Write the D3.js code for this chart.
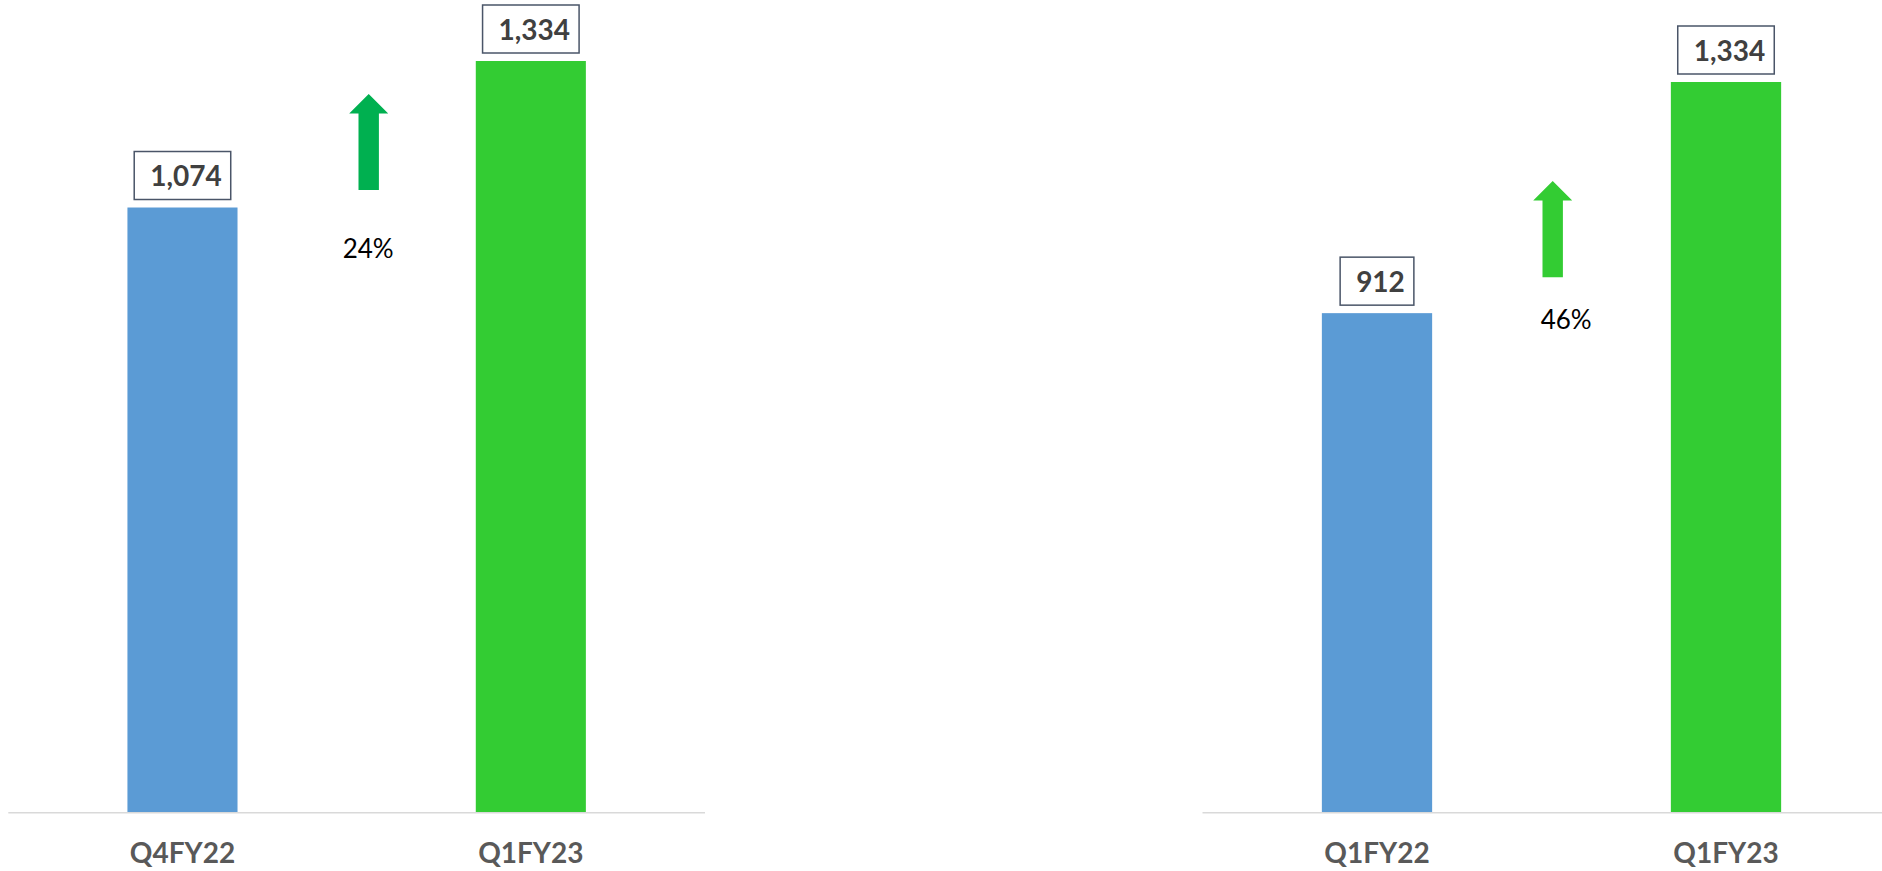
<!DOCTYPE html>
<html>
<head>
<meta charset="utf-8">
<script src="https://cdn.jsdelivr.net/npm/d3@7/dist/d3.min.js"></script>
<style>
  html, body { margin: 0; padding: 0; background: #ffffff; }
  svg { display: block; }
</style>
</head>
<body>
<svg id="chart" width="1882" height="871"></svg>
<script>
// ---- data ----
const leftCategories = ["Q4FY22", "Q1FY23"];
const leftValues = [1074, 1334];
const rightCategories = ["Q1FY22", "Q1FY23"];
const rightValues = [912, 1334];
const growthLabels = ["24%", "46%"];
const barColors = ["#5B9BD5", "#33CC33"];
const arrowColors = ["#00B050", "#33CC33"];

const W = 1882, H = 871;
const svg = d3.select("#chart");
const FONT = "Lato, 'Open Sans', sans-serif";
const baseline = 812.7;

const panels = [
  { cats: leftCategories, vals: leftValues, xRange: [8.3, 705], yTop: 61,
    growth: growthLabels[0], arrowColor: arrowColors[0],
    arrowX: 368.7, arrowTip: 94, arrowBottom: 190, pctY: 258.3 },
  { cats: rightCategories, vals: rightValues, xRange: [1202.5, 1900.5], yTop: 82,
    growth: growthLabels[1], arrowColor: arrowColors[1],
    arrowX: 1552.7, arrowTip: 181, arrowBottom: 277.3, pctY: 329 }
];

panels.forEach(p => {
  const g = svg.append("g");
  const x = d3.scaleBand().domain(p.cats).range(p.xRange)
    .paddingInner(0.684).paddingOuter(0.342);
  const y = d3.scaleLinear().domain([0, d3.max(p.vals)]).range([baseline, p.yTop]);

  // bars
  g.selectAll("rect.bar").data(p.cats).enter().append("rect")
    .attr("class", "bar")
    .attr("x", d => x(d))
    .attr("width", x.bandwidth())
    .attr("y", (d, i) => y(p.vals[i]))
    .attr("height", (d, i) => baseline - y(p.vals[i]))
    .attr("fill", (d, i) => barColors[i]);

  // axis line
  const axis = g.append("g").attr("transform", `translate(0,${baseline})`)
    .call(d3.axisBottom(x).tickSize(0).tickPadding(0).tickFormat(""));
  axis.select(".domain").attr("stroke", "#D9D9D9").attr("stroke-width", 1.5)
    .attr("d", `M${Math.min(p.xRange[1], W) === W ? p.xRange[0] : p.xRange[0]},0H${Math.min(p.xRange[1], W)}`);

  // category labels
  g.selectAll("text.cat").data(p.cats).enter().append("text")
    .attr("class", "cat")
    .attr("x", d => x(d) + x.bandwidth() / 2)
    .attr("y", 863.3)
    .attr("text-anchor", "middle")
    .attr("font-family", FONT)
    .attr("font-weight", "bold")
    .attr("font-size", 28)
    .attr("fill", "#595959")
    .text(d => d);

  // value labels with boxes
  p.cats.forEach((c, i) => {
    const cx = x(c) + x.bandwidth() / 2;
    const top = y(p.vals[i]);
    const lg = g.append("g");
    const t = lg.append("text")
      .attr("x", cx + 3.5)
      .attr("y", top - 21.3)
      .attr("text-anchor", "middle")
      .attr("font-family", FONT)
      .attr("font-weight", "bold")
      .attr("font-size", 28)
      .attr("fill", "#404040")
      .text(d3.format(",")(p.vals[i]));
    const tw = t.node().getComputedTextLength();
    const bw = tw + 25;
    lg.insert("rect", "text")
      .attr("x", cx - bw / 2)
      .attr("y", top - 8 - 48)
      .attr("width", bw)
      .attr("height", 48)
      .attr("fill", "#ffffff")
      .attr("stroke", "#4A5568")
      .attr("stroke-width", 1.5);
  });

  // growth arrow
  const headW = 39, headH = 19.5, shaftW = 20.4;
  const ax = p.arrowX, tip = p.arrowTip, bot = p.arrowBottom;
  const path = d3.path();
  path.moveTo(ax, tip);
  path.lineTo(ax + headW / 2, tip + headH);
  path.lineTo(ax + shaftW / 2, tip + headH);
  path.lineTo(ax + shaftW / 2, bot);
  path.lineTo(ax - shaftW / 2, bot);
  path.lineTo(ax - shaftW / 2, tip + headH);
  path.lineTo(ax - headW / 2, tip + headH);
  path.closePath();
  g.append("path").attr("d", path.toString()).attr("fill", p.arrowColor);

  g.append("text")
    .attr("x", ax - 0.5 + (p === panels[1] ? 14 : 0))
    .attr("y", p.pctY)
    .attr("text-anchor", "middle")
    .attr("font-family", FONT)
    .attr("font-size", 26)
    .attr("fill", "#000000")
    .text(p.growth);
});
</script>
</body>
</html>
